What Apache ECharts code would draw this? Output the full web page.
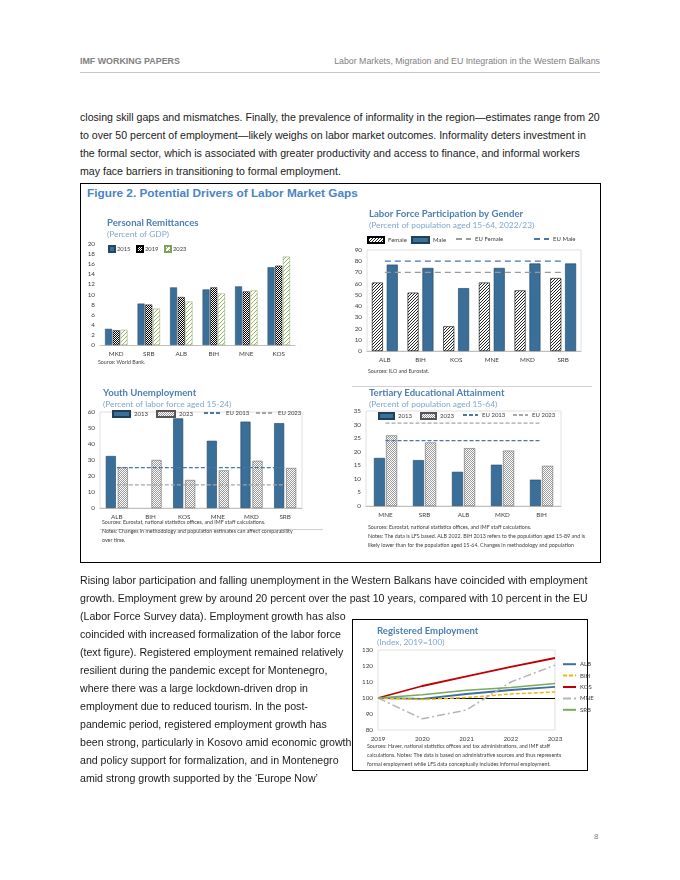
<!DOCTYPE html>
<html><head><meta charset="utf-8">
<script src="https://cdn.jsdelivr.net/npm/echarts@6/dist/echarts.min.js"></script>
<style>
html,body{margin:0;padding:0;background:#fff;}
body{width:680px;height:880px;position:relative;overflow:hidden;font-family:"Liberation Sans",Arial,sans-serif;}
.abs{position:absolute;white-space:nowrap;}
.p{font-size:10.6px;color:#1a1a1a;line-height:18px;}
.chart{position:absolute;}
</style></head><body>
<div class="abs" style="left:80px;top:56px;font-size:8.9px;font-weight:bold;color:#808080;">IMF WORKING PAPERS</div>
<div class="abs" style="right:80px;top:56px;font-size:8.8px;color:#808080;">Labor Markets, Migration and EU Integration in the Western Balkans</div>
<div class="abs" style="left:80px;top:72px;width:520px;height:0;border-top:1px solid #c8c8c8;"></div>

<div class="abs p" style="left:80px;top:108px;">closing skill gaps and mismatches. Finally, the prevalence of informality in the region—estimates range from 20<br>to over 50 percent of employment—likely weighs on labor market outcomes. Informality deters investment in<br>the formal sector, which is associated with greater productivity and access to finance, and informal workers<br>may face barriers in transitioning to formal employment.</div>

<div class="abs" style="left:80px;top:183px;width:521px;height:380px;border:1px solid #000;box-sizing:border-box;"></div>
<div class="abs" style="left:87px;top:186px;font-size:11.8px;font-weight:bold;color:#4a84c4;line-height:14px;">Figure 2. Potential Drivers of Labor Market Gaps</div>
<div class="abs" style="left:352px;top:386px;width:240px;height:0;border-top:1px solid #d0d0d0;"></div>
<div class="abs" style="left:100px;top:529px;width:223px;height:0;border-top:1px solid #d0d0d0;"></div>
<div class="abs" style="left:352px;top:619px;width:236px;height:152px;border:1px solid #000;box-sizing:border-box;"></div>

<div id="c1" class="chart" style="left:82px;top:205px;width:258px;height:170px;"></div>
<div id="c2" class="chart" style="left:343px;top:200px;width:255px;height:180px;"></div>
<div id="c3" class="chart" style="left:82px;top:383px;width:258px;height:170px;"></div>
<div id="c4" class="chart" style="left:343px;top:383px;width:255px;height:178px;"></div>
<div id="c5" class="chart" style="left:352px;top:619px;width:250px;height:152px;"></div>

<div class="abs p" style="left:80px;top:571px;">Rising labor participation and falling unemployment in the Western Balkans have coincided with employment<br>growth. Employment grew by around 20 percent over the past 10 years, compared with 10 percent in the EU<br>(Labor Force Survey data). Employment growth has also<br>coincided with increased formalization of the labor force<br>(text figure). Registered employment remained relatively<br>resilient during the pandemic except for Montenegro,<br>where there was a large lockdown-driven drop in<br>employment due to reduced tourism. In the post-<br>pandemic period, registered employment growth has<br>been strong, particularly in Kosovo amid economic growth<br>and policy support for formalization, and in Montenegro<br>amid strong growth supported by the ‘Europe Now’</div>

<div class="abs" style="left:594px;top:832px;font-size:8px;color:#808080;">8</div>

<script>
// ---------- DATA ----------
const remitCats = ['MKD','SRB','ALB','BIH','MNE','KOS'];
const remit2015 = [3.2, 8.2, 11.4, 11.0, 11.6, 15.4];
const remit2019 = [2.9, 8.0, 9.5, 11.4, 10.6, 15.7];
const remit2023 = [3.0, 7.2, 8.6, 10.2, 10.8, 17.5];
const remitTicks = [0, 20, 2];

const lfpCats = ['ALB','BIH','KOS','MNE','MKD','SRB'];
const lfpFemale = [61, 52, 22, 61, 54, 65];
const lfpMale = [77, 74, 56, 74, 78, 78];
const lfpEUFemale = 70;
const lfpEUMale = 80;
const lfpTicks = [0, 90, 10];

const youthCats = ['ALB','BIH','KOS','MNE','MKD','SRB'];
const youth2013 = [32.5, null, 56, 42, 54, 53];
const youth2023 = [25.5, 30, 17.5, 23.5, 29.5, 25];
const youthEU2013 = 25.2;
const youthEU2023 = 14.5;
const youthTicks = [0, 60, 10];

const tertCats = ['MNE','SRB','ALB','MKD','BIH'];
const tert2013 = [17.7, 16.9, 12.6, 15.2, 9.7];
const tert2023 = [26.0, 23.4, 21.3, 20.4, 14.8];
const tertEU2013 = 24.1;
const tertEU2023 = 30.5;
const tertTicks = [0, 35, 5];

const empYears = ['2019','2020','2021','2022','2023'];
const empALB = [100, 99.5, 102.5, 105, 107];
const empBIH = [100, 99, 100.3, 102.5, 103.8];
const empKOS = [100, 107.5, 113.5, 119.5, 125];
const empMNE = [100, 87, 92.5, 110, 120.5];
const empSRB = [100, 102, 104.8, 106.5, 109];
const empTicks = [80, 130, 10];

// ---------- STYLE HELPERS ----------
function pat(w, h, draw) {
  const c = document.createElement('canvas'); c.width = w; c.height = h;
  const g = c.getContext('2d'); g.fillStyle = '#fff'; g.fillRect(0, 0, w, h); draw(g);
  return { image: c, repeat: 'repeat' };
}
const checkerDark = pat(2, 2, g => { g.fillStyle = '#000'; g.fillRect(0,0,1,1); g.fillRect(1,1,1,1); });
const checkerLight = pat(2, 2, g => { g.fillStyle = '#9a9a9a'; g.fillRect(0,0,1,1); g.fillRect(1,1,1,1); });
const greenHatch = pat(4, 4, g => { g.fillStyle = '#93b866'; for (let i = 0; i < 4; i++) g.fillRect(i, 3 - i, 1, 1); });
const diagHatch = pat(3, 3, g => { g.fillStyle = '#222'; for (let i = 0; i < 3; i++) g.fillRect(i, 2 - i, 1, 1); });

const FONT = 'Lato';
const BLUE = '#3a6f9a';
const TITLE = { fontFamily: FONT, fontWeight: 'bold', fontSize: 9.6, color: '#4d7eb3' };
const SUB = { fontFamily: FONT, fontSize: 8.4, color: '#7fa6d1' };
const AXL = { fontFamily: FONT, fontSize: 6.3, color: '#404040' };
const LEGT = { fontFamily: FONT, fontSize: 6, color: '#404040', padding: [0, 0, 0, -1] };
const LEGT1 = { fontFamily: FONT, fontSize: 5.8, color: '#404040', padding: [0, 0, 0, -3] };
const NOTE = (t) => ({ fontFamily: FONT, fontSize: 5.3, fill: '#404040', text: t, lineHeight: 8.8 });

function valAxis(t) {
  return { type: 'value', min: t[0], max: t[1], interval: t[2],
    splitLine: { show: false }, axisLine: { show: false }, axisTick: { show: false },
    axisLabel: Object.assign({}, AXL, { margin: 5 }) };
}
function catAxis(cats) {
  return { type: 'category', data: cats,
    axisLine: { lineStyle: { color: '#bfbfbf', width: 1 } }, axisTick: { show: false },
    axisLabel: Object.assign({}, AXL, { margin: 6 }) };
}
function constLine(name, cats, v, color, dash) {
  return { name: name, type: 'line', data: cats.map(() => v), symbol: 'none', silent: true,
    lineStyle: { color: color, width: 1.3, type: dash }, itemStyle: { color: color }, z: 5 };
}
// one legend component per item, placed at page coordinates (icon left x, centre y)
function legendsAt(divLeft, divTop, cy, items, txt) {
  return items.map(it => ({
    left: it.x - divLeft, top: cy - 4 - divTop, padding: 0, itemWidth: it.w, itemHeight: it.h || 6,
    textStyle: txt || LEGT,
    data: [it.line ? { name: it.name, itemStyle: { opacity: 0 } } : { name: it.name, icon: 'rect' }]
  }));
}

// ---------- CHART 1 ----------
echarts.init(document.getElementById('c1')).setOption({
  animation: false,
  title: { text: 'Personal Remittances', subtext: '(Percent of GDP)', left: 25, top: 13, itemGap: 2, padding: 0, textStyle: TITLE, subtextStyle: SUB },
  legend: legendsAt(82, 205, 249, [
    { name: '2015', x: 108, w: 6 }, { name: '2019', x: 136, w: 6 }, { name: '2023', x: 164, w: 6 }], LEGT1),
  grid: { left: 18, top: 39, width: 195, height: 101 },
  xAxis: catAxis(remitCats),
  yAxis: valAxis(remitTicks),
  series: [
    { name: '2015', type: 'bar', data: remit2015, barWidth: 7, barGap: '10%', itemStyle: { color: BLUE, borderColor: '#24475f', borderWidth: 0.5 } },
    { name: '2019', type: 'bar', data: remit2019, barWidth: 7, barGap: '10%', itemStyle: { color: checkerDark, borderColor: '#000', borderWidth: 0.5 } },
    { name: '2023', type: 'bar', data: remit2023, barWidth: 7, barGap: '10%', itemStyle: { color: greenHatch, borderColor: '#7f9f5c', borderWidth: 0.5 } }
  ],
  graphic: [{ type: 'text', left: 16, top: 153, style: NOTE('Source: World Bank.') }]
});

// ---------- CHART 2 ----------
echarts.init(document.getElementById('c2')).setOption({
  animation: false,
  title: { text: 'Labor Force Participation by Gender', subtext: '(Percent of population aged 15-64, 2022/23)', left: 26, top: 9, itemGap: 2, padding: 0, textStyle: TITLE, subtextStyle: SUB },
  legend: legendsAt(343, 200, 240, [
    { name: 'Female', x: 367, w: 16 }, { name: 'Male', x: 411, w: 17 },
    { name: 'EU Female', x: 455, w: 15, line: true }, { name: 'EU Male', x: 533, w: 15, line: true }]),
  grid: { left: 24, top: 50, width: 214, height: 101, show: true, borderColor: '#e0e0e0', borderWidth: 1 },
  xAxis: catAxis(lfpCats),
  yAxis: valAxis(lfpTicks),
  series: [
    { name: 'Female', type: 'bar', data: lfpFemale, barWidth: 11, barGap: '35%', itemStyle: { color: diagHatch, borderColor: '#000', borderWidth: 0.6 } },
    { name: 'Male', type: 'bar', data: lfpMale, barWidth: 11, barGap: '35%', itemStyle: { color: BLUE, borderColor: '#1f3f5a', borderWidth: 0.6 } },
    constLine('EU Female', lfpCats, lfpEUFemale, '#9a9a9a', [6, 4]),
    constLine('EU Male', lfpCats, lfpEUMale, '#4a76a8', [6, 4])
  ],
  graphic: [{ type: 'text', left: 25, top: 167, style: NOTE('Sources: ILO and Eurostat.') }]
});

// ---------- CHART 3 ----------
echarts.init(document.getElementById('c3')).setOption({
  animation: false,
  title: { text: 'Youth Unemployment', subtext: '(Percent of labor force aged 15-24)', left: 21, top: 5, itemGap: 2, padding: 0, textStyle: TITLE, subtextStyle: SUB },
  legend: legendsAt(82, 383, 414, [
    { name: '2013', x: 112, w: 17 }, { name: '2023', x: 156, w: 18 },
    { name: 'EU 2013', x: 203, w: 18, line: true }, { name: 'EU 2023', x: 255, w: 18, line: true }]),
  grid: { left: 18, top: 29, width: 202, height: 96, show: true, borderColor: '#e0e0e0', borderWidth: 1 },
  xAxis: catAxis(youthCats),
  yAxis: valAxis(youthTicks),
  series: [
    { name: '2013', type: 'bar', data: youth2013, barWidth: 10, barGap: '20%', itemStyle: { color: BLUE, borderColor: '#1f3f5a', borderWidth: 0.6 } },
    { name: '2023', type: 'bar', data: youth2023, barWidth: 10, barGap: '20%', itemStyle: { color: checkerLight, borderColor: '#555', borderWidth: 0.5 } },
    constLine('EU 2013', youthCats, youthEU2013, '#4a76a8', [4, 2]),
    constLine('EU 2023', youthCats, youthEU2023, '#a6a6a6', [4, 2])
  ],
  graphic: [{ type: 'text', left: 20, top: 135, style: NOTE('Sources: Eurostat, national statistics offices, and IMF staff calculations.\nNotes: Changes in methodology and population estimates can affect comparability\nover time.') }]
});

// ---------- CHART 4 ----------
echarts.init(document.getElementById('c4')).setOption({
  animation: false,
  title: { text: 'Tertiary Educational Attainment', subtext: '(Percent of population aged 15-64)', left: 26, top: 5, itemGap: 2, padding: 0, textStyle: TITLE, subtextStyle: SUB },
  legend: legendsAt(343, 383, 416, [
    { name: '2013', x: 378, w: 15 }, { name: '2023', x: 420, w: 15 },
    { name: 'EU 2013', x: 462, w: 15, line: true }, { name: 'EU 2023', x: 512, w: 15, line: true }]),
  grid: { left: 23, top: 28, width: 195, height: 95, show: true, borderColor: '#e0e0e0', borderWidth: 1 },
  xAxis: catAxis(tertCats),
  yAxis: valAxis(tertTicks),
  series: [
    { name: '2013', type: 'bar', data: tert2013, barWidth: 11, barGap: '10%', itemStyle: { color: BLUE, borderColor: '#1f3f5a', borderWidth: 0.6 } },
    { name: '2023', type: 'bar', data: tert2023, barWidth: 11, barGap: '10%', itemStyle: { color: checkerLight, borderColor: '#555', borderWidth: 0.5 } },
    constLine('EU 2013', tertCats, tertEU2013, '#4a76a8', [4, 2]),
    constLine('EU 2023', tertCats, tertEU2023, '#a6a6a6', [4, 2])
  ],
  graphic: [{ type: 'text', left: 25, top: 140, style: NOTE('Sources: Eurostat, national statistics offices, and IMF staff calculations.\nNotes: The data is LFS based. ALB 2022. BIH 2013 refers to the population aged 15-89 and is\nlikely lower than for the population aged 15-64. Changes in methodology and population') }]
});

// ---------- CHART 5 ----------
function empLine(name, data, color, dash, width) {
  return { name: name, type: 'line', data: data, symbol: 'none', smooth: false,
    lineStyle: { color: color, width: width, type: dash }, itemStyle: { color: color } };
}
const c5 = empLine('ALB', empALB, '#3d6fa3', 'solid', 1.8);
c5.markLine = { silent: true, symbol: 'none', label: { show: false }, lineStyle: { color: '#000', width: 1, type: 'solid' }, data: [{ yAxis: 100 }], z: 1 };
const empNames = ['ALB', 'BIH', 'KOS', 'MNE', 'SRB'];
echarts.init(document.getElementById('c5')).setOption({
  animation: false,
  title: { text: 'Registered Employment', subtext: '(Index, 2019=100)', left: 25, top: 7, itemGap: 2, padding: 0, textStyle: TITLE, subtextStyle: SUB },
  legend: { orient: 'vertical', left: 210, top: 42, itemWidth: 13, itemHeight: 8, itemGap: 5, padding: 0,
    textStyle: LEGT, data: empNames.map(n => ({ name: n, itemStyle: { opacity: 0 } })) },
  grid: { left: 26, top: 31, width: 177, height: 80, show: true, borderColor: '#e0e0e0', borderWidth: 1 },
  xAxis: { type: 'category', data: empYears, boundaryGap: false, axisLine: { show: false }, axisTick: { show: false }, splitLine: { show: false },
    axisLabel: Object.assign({}, AXL, { margin: 6 }) },
  yAxis: valAxis(empTicks),
  series: [
    c5,
    empLine('BIH', empBIH, '#f2b705', [4, 2], 1.5),
    empLine('KOS', empKOS, '#c00000', 'solid', 1.8),
    empLine('MNE', empMNE, '#b5b5b5', [8, 3, 2, 3], 1.5),
    empLine('SRB', empSRB, '#79a95b', 'solid', 1.5)
  ],
  graphic: [{ type: 'text', left: 15, top: 123, style: NOTE('Sources: Haver, national statistics offices and tax administrations, and IMF staff\ncalculations. Notes: The data is based on administrative sources and thus represents\nformal employment while LFS data conceptually includes informal employment.') }]
});
</script>
</body></html>
